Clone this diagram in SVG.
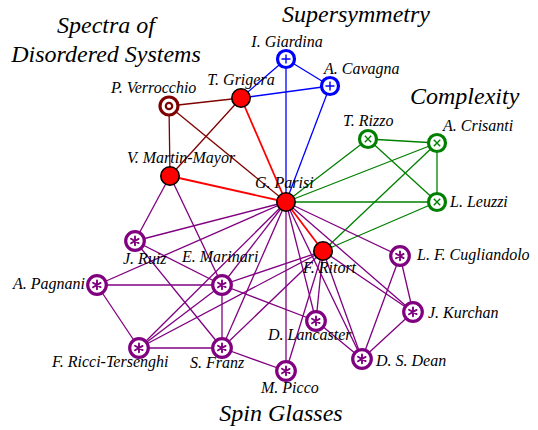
<svg xmlns="http://www.w3.org/2000/svg" width="538" height="430" viewBox="0 0 538 430">
<style>
.t{font-family:"Liberation Serif","Times New Roman",serif;font-style:italic;fill:#000}
.lab{font-size:16px}
.ttl{font-size:24px}
.e{stroke-width:1.3;fill:none}
.pu{stroke:#800080}
.gr{stroke:#008000}
.bl{stroke:#0000ff}
.dr{stroke:#800000}
.rd{stroke:#ff0000;stroke-width:1.8}
.red{fill:#ff0000;stroke:#000;stroke-width:1.6}
.ring{fill:#fff;stroke-width:3.2}
.sym{stroke-width:1.4;fill:none}
</style>
<defs>
<g id="ast"><path d="M0,-4.6V4.2M-4,-2.3L3.6,2.1M-4,2.3L3.6,-2.1" fill="none" stroke="#800080" stroke-width="1.9" stroke-linecap="round"/></g>
<g id="plus"><path d="M-4.5,0H4.5M0,-4.5V4.5" class="sym" stroke="#0000ff"/></g>
<g id="cross"><path d="M-3.2,-3.2L3.2,3.2M-3.2,3.2L3.2,-3.2" class="sym" stroke="#008000"/></g>
</defs>
<rect width="538" height="430" fill="#fff"/>
<g id="titles">
<text class="t ttl" x="106" y="33" text-anchor="middle">Spectra of</text>
<text class="t ttl" x="106" y="62" text-anchor="middle">Disordered Systems</text>
<text class="t ttl" x="356" y="22" text-anchor="middle">Supersymmetry</text>
<text class="t ttl" x="410" y="104">Complexity</text>
<text class="t ttl" x="281" y="421" text-anchor="middle">Spin Glasses</text>
</g>
<g id="connectors">
<g class="e bl">
<line x1="286" y1="59" x2="241" y2="98"/>
<line x1="286" y1="59" x2="330" y2="86"/>
<line x1="286" y1="59" x2="286" y2="202"/>
<line x1="330" y1="86" x2="241" y2="98"/>
<line x1="330" y1="86" x2="286" y2="202"/>
</g>
<g class="e dr">
<line x1="169" y1="106" x2="241" y2="98"/>
<line x1="169" y1="106" x2="170" y2="176"/>
<line x1="169" y1="106" x2="286" y2="202"/>
<line x1="241" y1="98" x2="170" y2="176"/>
</g>
<g class="e rd">
<line x1="241" y1="98" x2="286" y2="202"/>
<line x1="170" y1="176" x2="286" y2="202"/>
<line x1="286" y1="202" x2="323" y2="251"/>
</g>
<g class="e gr">
<line x1="368" y1="139" x2="286" y2="202"/>
<line x1="437" y1="143" x2="286" y2="202"/>
<line x1="437" y1="202" x2="286" y2="202"/>
<line x1="368" y1="139" x2="437" y2="143"/>
<line x1="368" y1="139" x2="437" y2="202"/>
<line x1="437" y1="143" x2="437" y2="202"/>
<line x1="437" y1="143" x2="323" y2="251"/>
<line x1="437" y1="202" x2="323" y2="251"/>
</g>
<g class="e pu">
<line x1="170" y1="176" x2="135" y2="241"/>
<line x1="170" y1="176" x2="222" y2="285"/>
<line x1="135" y1="241" x2="286" y2="202"/>
<line x1="135" y1="241" x2="222" y2="285"/>
<line x1="135" y1="241" x2="222" y2="348"/>
<line x1="97" y1="285" x2="286" y2="202"/>
<line x1="97" y1="285" x2="222" y2="285"/>
<line x1="97" y1="285" x2="139" y2="348"/>
<line x1="139" y1="348" x2="222" y2="348"/>
<line x1="139" y1="348" x2="222" y2="285"/>
<line x1="139" y1="348" x2="286" y2="202"/>
<line x1="139" y1="348" x2="323" y2="251"/>
<line x1="222" y1="285" x2="286" y2="202"/>
<line x1="222" y1="285" x2="323" y2="251"/>
<line x1="222" y1="285" x2="222" y2="348"/>
<line x1="222" y1="285" x2="316" y2="321"/>
<line x1="222" y1="348" x2="286" y2="202"/>
<line x1="222" y1="348" x2="323" y2="251"/>
<line x1="222" y1="348" x2="286" y2="371"/>
<line x1="286" y1="371" x2="286" y2="202"/>
<line x1="286" y1="371" x2="323" y2="251"/>
<line x1="316" y1="321" x2="286" y2="202"/>
<line x1="316" y1="321" x2="323" y2="251"/>
<line x1="316" y1="321" x2="362" y2="359"/>
<line x1="362" y1="359" x2="286" y2="202"/>
<line x1="362" y1="359" x2="323" y2="251"/>
<line x1="362" y1="359" x2="400" y2="256"/>
<line x1="362" y1="359" x2="413" y2="312"/>
<line x1="413" y1="312" x2="286" y2="202"/>
<line x1="413" y1="312" x2="323" y2="251"/>
<line x1="413" y1="312" x2="400" y2="256"/>
<line x1="400" y1="256" x2="286" y2="202"/>
</g>
</g>
<g id="n-giardina"><circle cx="286" cy="59" r="8.5" class="ring" stroke="#0000ff"/><use href="#plus" x="286" y="59"/><text class="t lab" x="287" y="47" text-anchor="middle">I. Giardina</text></g>
<g id="n-cavagna"><circle cx="330" cy="86" r="8.5" class="ring" stroke="#0000ff"/><use href="#plus" x="330" y="86"/><text class="t lab" x="324" y="74">A. Cavagna</text></g>
<g id="n-grigera"><circle cx="241" cy="98" r="9.2" class="red"/><text class="t lab" x="241" y="85" text-anchor="middle">T. Grigera</text></g>
<g id="n-verrocchio"><circle cx="169" cy="106" r="9" class="ring" stroke="#800000"/><circle cx="169" cy="106" r="3.2" fill="none" stroke="#800000" stroke-width="2.2"/><text class="t lab" x="111" y="93">P. Verrocchio</text></g>
<g id="n-martin-mayor"><circle cx="170" cy="176" r="9.2" class="red"/><text class="t lab" x="127" y="163">V. Martin-Mayor</text></g>
<g id="n-parisi"><circle cx="286" cy="202" r="9.2" class="red"/><text class="t lab" x="255" y="188">G. Parisi</text></g>
<g id="n-rizzo"><circle cx="368" cy="139" r="8.5" class="ring" stroke="#008000"/><use href="#cross" x="368" y="139"/><text class="t lab" x="343" y="126">T. Rizzo</text></g>
<g id="n-crisanti"><circle cx="437" cy="143" r="8.5" class="ring" stroke="#008000"/><use href="#cross" x="437" y="143"/><text class="t lab" x="443" y="131">A. Crisanti</text></g>
<g id="n-leuzzi"><circle cx="437" cy="202" r="8.5" class="ring" stroke="#008000"/><use href="#cross" x="437" y="202"/><text class="t lab" x="450" y="207">L. Leuzzi</text></g>
<g id="n-ritort"><circle cx="323" cy="251" r="9.2" class="red"/><text class="t lab" x="303" y="273">F. Ritort</text></g>
<g id="n-cugliandolo"><circle cx="400" cy="256" r="9.3" class="ring" stroke="#800080"/><use href="#ast" x="400" y="256"/><text class="t lab" x="417" y="260">L. F. Cugliandolo</text></g>
<g id="n-kurchan"><circle cx="413" cy="312" r="9.3" class="ring" stroke="#800080"/><use href="#ast" x="413" y="312"/><text class="t lab" x="428" y="318">J. Kurchan</text></g>
<g id="n-dean"><circle cx="362" cy="359" r="9.3" class="ring" stroke="#800080"/><use href="#ast" x="362" y="359"/><text class="t lab" x="376" y="366">D. S. Dean</text></g>
<g id="n-lancaster"><circle cx="316" cy="321" r="9.3" class="ring" stroke="#800080"/><use href="#ast" x="316" y="321"/><text class="t lab" x="268" y="340">D. Lancaster</text></g>
<g id="n-picco"><circle cx="286" cy="371" r="9.3" class="ring" stroke="#800080"/><use href="#ast" x="286" y="371"/><text class="t lab" x="261" y="393">M. Picco</text></g>
<g id="n-ruiz"><circle cx="135" cy="241" r="9.3" class="ring" stroke="#800080"/><use href="#ast" x="135" y="241"/><text class="t lab" x="123" y="264">J. Ruiz</text></g>
<g id="n-marinari"><circle cx="222" cy="285" r="9.3" class="ring" stroke="#800080"/><use href="#ast" x="222" y="285"/><text class="t lab" x="182" y="262">E. Marinari</text></g>
<g id="n-pagnani"><circle cx="97" cy="285" r="9.3" class="ring" stroke="#800080"/><use href="#ast" x="97" y="285"/><text class="t lab" x="13" y="289">A. Pagnani</text></g>
<g id="n-ricci-tersenghi"><circle cx="139" cy="348" r="9.3" class="ring" stroke="#800080"/><use href="#ast" x="139" y="348"/><text class="t lab" x="52" y="367">F. Ricci-Tersenghi</text></g>
<g id="n-franz"><circle cx="222" cy="348" r="9.3" class="ring" stroke="#800080"/><use href="#ast" x="222" y="348"/><text class="t lab" x="190" y="368">S. Franz</text></g>
</svg>
